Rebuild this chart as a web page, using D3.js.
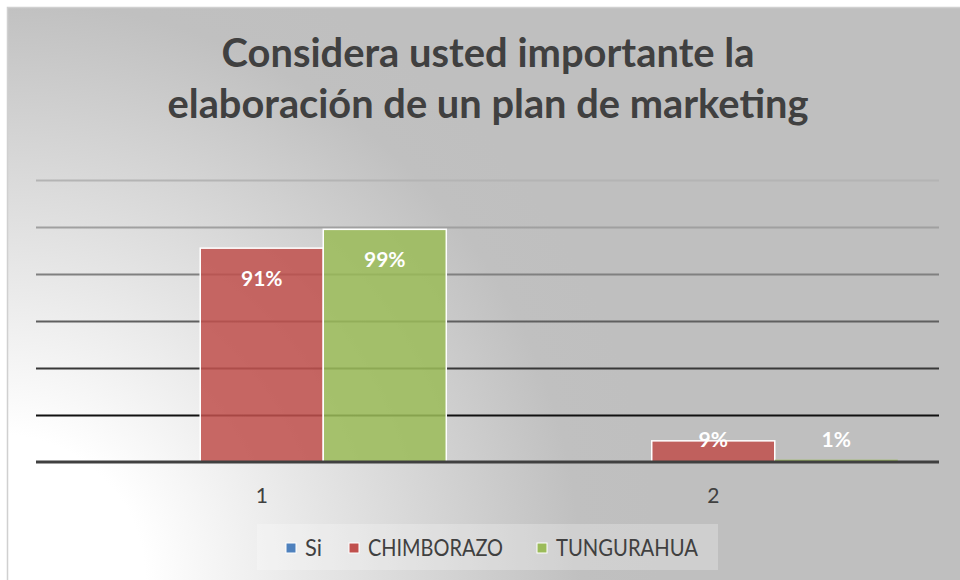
<!DOCTYPE html>
<html><head><meta charset="utf-8">
<script src="https://cdn.jsdelivr.net/npm/d3@7"></script>
<style>body{margin:0;background:#fff}svg{display:block}</style>
</head><body><svg id="c" width="960" height="580"></svg>
<script>
// ---- data ----
const categories = ["1", "2"];
const seriesNames = ["Si", "CHIMBORAZO", "TUNGURAHUA"];
const siValues = [null, null];
const chimborazoValues = [91, 9];
const tungurahuaValues = [99, 1];
const yTicks = [0, 20, 40, 60, 80, 100, 120];
const titleLines = ["Considera usted importante la", "elaboración de un plan de marketing"];

// ---- styles ----
const seriesColors = {"Si": "#4f81bd", "CHIMBORAZO": "#c0504d", "TUNGURAHUA": "#9bbb59"};
const gridColors = ["#404040", "#111111", "#383838", "#5f5f5f", "#808080", "#a0a0a0", "#b4b4b4"];
const FONT = "Lato, 'Open Sans', sans-serif";

const series = [
  {name: "Si", values: siValues},
  {name: "CHIMBORAZO", values: chimborazoValues},
  {name: "TUNGURAHUA", values: tungurahuaValues}
];

const svg = d3.select("#c");
const defs = svg.append("defs");
const rg = defs.append("radialGradient").attr("id", "bg")
  .attr("gradientUnits", "userSpaceOnUse")
  .attr("cx", 0).attr("cy", 580).attr("r", 660);
rg.append("stop").attr("offset", 0).attr("stop-color", "#ffffff");
rg.append("stop").attr("offset", 0.22).attr("stop-color", "#ffffff");
rg.append("stop").attr("offset", 0.88).attr("stop-color", "#c0c0c0");
rg.append("stop").attr("offset", 1).attr("stop-color", "#bfbfbf");

svg.append("rect").attr("width", 960).attr("height", 580).attr("fill", "#fff");
svg.append("rect").attr("x", 7.5).attr("y", 7.5).attr("width", 960).attr("height", 580)
  .attr("fill", "url(#bg)").attr("stroke", "#d0d0d0").attr("stroke-width", 1.5);

// title
svg.append("g").selectAll("text").data(titleLines).join("text")
  .attr("x", 488).attr("y", (d, i) => 67 + i * 51)
  .attr("text-anchor", "middle")
  .attr("font-family", FONT).attr("font-weight", "bold").attr("font-size", 40)
  .attr("fill", "#404040")
  .attr("textLength", (d, i) => i === 0 ? 533 : 641)
  .attr("lengthAdjust", "spacingAndGlyphs")
  .text(d => d);

// scales
const x0 = d3.scaleBand().domain(categories).range([36, 939]).paddingInner(0).paddingOuter(0);
const x1 = d3.scaleBand().domain(seriesNames).range([0, x0.bandwidth()]).paddingInner(0).paddingOuter(0.335);
const y = d3.scaleLinear().domain([0, 120]).range([462, 180]);

// gridlines
const grid = d3.axisLeft(y).tickValues(yTicks).tickSize(-(939 - 36)).tickFormat("");
const gg = svg.append("g").attr("transform", "translate(36,0)").call(grid);
gg.select(".domain").remove();
gg.selectAll(".tick line")
  .attr("stroke", (d, i) => gridColors[i])
  .attr("stroke-width", 2);
gg.selectAll(".tick").filter(d => d === 0).remove();

// bars
const groups = svg.append("g").selectAll("g").data(categories).join("g")
  .attr("transform", d => `translate(${x0(d)},0)`);
const barData = (c, ci) => series.map(s => ({cat: c, name: s.name, v: s.values[ci]}));
groups.selectAll("rect").data((c, ci) => barData(c, ci).filter(d => d.v != null)).join("rect")
  .attr("x", d => x1(d.name))
  .attr("width", x1.bandwidth())
  .attr("y", d => y(d.v))
  .attr("height", d => y(0) - y(d.v))
  .attr("fill", d => seriesColors[d.name])
  .attr("fill-opacity", 0.86)
  .attr("stroke", "#ffffff").attr("stroke-width", 1.5)
  .attr("stroke-opacity", d => (y(0) - y(d.v)) < 4 ? 0 : 1);

// axis line
const xAxis = d3.axisBottom(x0).tickSize(0).tickPadding(26);
const ax = svg.append("g").attr("transform", `translate(0,${y(0)})`).call(xAxis);
ax.select(".domain").attr("stroke", "#404040").attr("stroke-width", 3)
  .attr("d", `M36,0H939`);
ax.selectAll("text").attr("font-family", FONT).attr("font-size", 21).attr("fill", "#404040");

// data labels
groups.selectAll("text.lbl").data((c, ci) => barData(c, ci).filter(d => d.v != null)).join("text")
  .attr("class", "lbl")
  .attr("x", d => x1(d.name) + x1.bandwidth() / 2)
  .attr("y", d => Math.min(y(d.v) + 30, y(0) - 22))
  .attr("dy", "0.35em")
  .attr("text-anchor", "middle")
  .attr("font-family", FONT).attr("font-weight", "bold").attr("font-size", 21)
  .attr("fill", "#ffffff")
  .text(d => d.v + "%");

// legend
svg.append("rect").attr("x", 257).attr("y", 524).attr("width", 461).attr("height", 46)
  .attr("fill", "#ffffff").attr("fill-opacity", 0.25);
const legendX = [286, 349, 537];
const legendW = [17, 135, 142];
const lg = svg.append("g").selectAll("g").data(seriesNames).join("g")
  .attr("transform", (d, i) => `translate(${legendX[i]},543)`);
lg.append("rect").attr("width", 10).attr("height", 10)
  .attr("fill", d => seriesColors[d]).attr("stroke", "#fff").attr("stroke-width", 1);
lg.append("text").attr("x", 19).attr("y", 13)
  .attr("font-family", FONT).attr("font-size", 23).attr("fill", "#404040")
  .attr("textLength", (d, i) => legendW[i]).attr("lengthAdjust", "spacingAndGlyphs")
  .text(d => d);
</script></body></html>
